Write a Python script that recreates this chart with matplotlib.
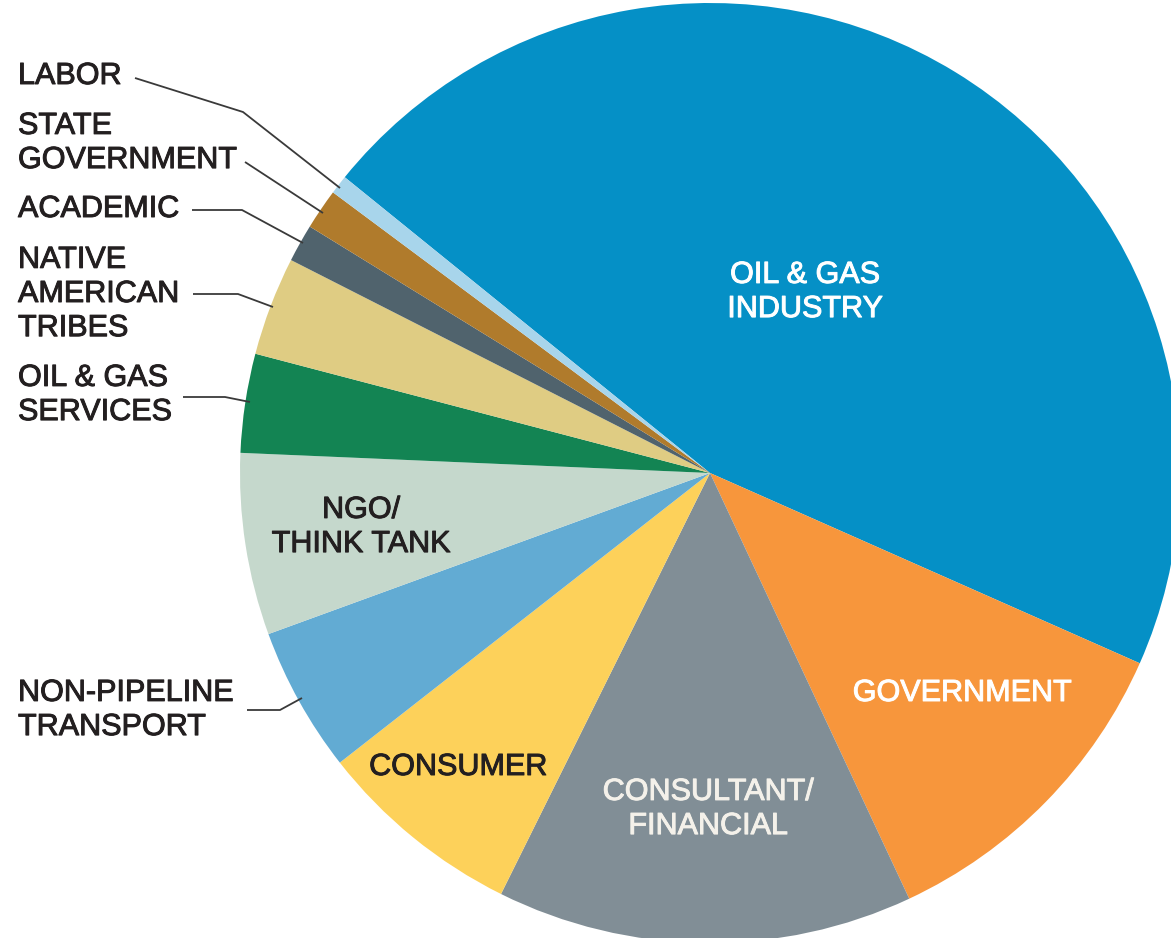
import matplotlib
matplotlib.use("Agg")
import matplotlib.pyplot as plt
import matplotlib.patheffects as pe

categories = ["OIL & GAS INDUSTRY", "GOVERNMENT", "CONSULTANT/FINANCIAL", "CONSUMER",
              "NON-PIPELINE TRANSPORT", "NGO/THINK TANK", "OIL & GAS SERVICES",
              "NATIVE AMERICAN TRIBES", "ACADEMIC", "STATE GOVERNMENT", "LABOR"]
shares = [45.8, 11.4, 14.3, 7.1, 5.0, 6.25, 3.4, 3.4, 1.3, 1.4, 0.65]
colors = ["#0590C6", "#F7963C", "#818E96", "#FDD15A", "#62ABD3", "#C5D8CC",
          "#138453", "#DFCC83", "#50636D", "#B07B2C", "#A8D5EB"]

W, H = 1171, 938
plt.rcParams['font.family'] = ['Liberation Sans', 'DejaVu Sans']
fig = plt.figure(figsize=(W / 100, H / 100), dpi=100)
ax = fig.add_axes([0, 0, 1, 1])

def Y(y):
    return H - y

cx, cy, R = 710, 473, 470
ax.pie(shares, colors=colors, startangle=141, counterclock=False,
       radius=R, center=(cx, Y(cy)), wedgeprops=dict(linewidth=0))
ax.set_xlim(0, W)
ax.set_ylim(0, H)
ax.set_aspect('equal')
ax.axis('off')

fs = 22
dark = "#231F20"
ls = 1.18

def fx(c):
    return [pe.withStroke(linewidth=0.7, foreground=c)]

# inside labels
ax.text(805, Y(292), "OIL & GAS\nINDUSTRY", color="white", fontsize=fs, ha="center", va="center",
        linespacing=ls, path_effects=fx("white"))
ax.text(962, Y(693), "GOVERNMENT", color="white", fontsize=fs, ha="center", va="center",
        path_effects=fx("white"))
ax.text(708, Y(809), "CONSULTANT/\nFINANCIAL", color="#F4F1EA", fontsize=fs, ha="center", va="center",
        linespacing=ls, path_effects=fx("#F4F1EA"))
ax.text(458, Y(767), "CONSUMER", color=dark, fontsize=fs, ha="center", va="center",
        path_effects=fx(dark))
ax.text(361, Y(527), "NGO/\nTHINK TANK", color=dark, fontsize=fs, ha="center", va="center",
        linespacing=ls, path_effects=fx(dark))

# outside labels with leader lines
outside = [
    ("LABOR", 76, [(135, 78), (243, 112), (340, 188)]),
    ("STATE\nGOVERNMENT", 143, [(245, 162), (323, 213)]),
    ("ACADEMIC", 209, [(192, 210), (242, 210), (303, 243)]),
    ("NATIVE\nAMERICAN\nTRIBES", 294, [(193, 294), (238, 294), (273, 307)]),
    ("OIL & GAS\nSERVICES", 395, [(183, 397), (225, 397), (250, 402)]),
    ("NON-PIPELINE\nTRANSPORT", 710, [(247, 710), (280, 710), (302, 698)]),
]
for text, ty, pts in outside:
    ax.text(18, Y(ty), text, color=dark, fontsize=fs, ha="left", va="center",
            linespacing=ls, path_effects=fx(dark))
    xs = [p[0] for p in pts]
    ys = [Y(p[1]) for p in pts]
    ax.plot(xs, ys, color="#3A3A3A", linewidth=1.3, solid_capstyle="butt")

fig.savefig("out.png", dpi=100, facecolor="white")
